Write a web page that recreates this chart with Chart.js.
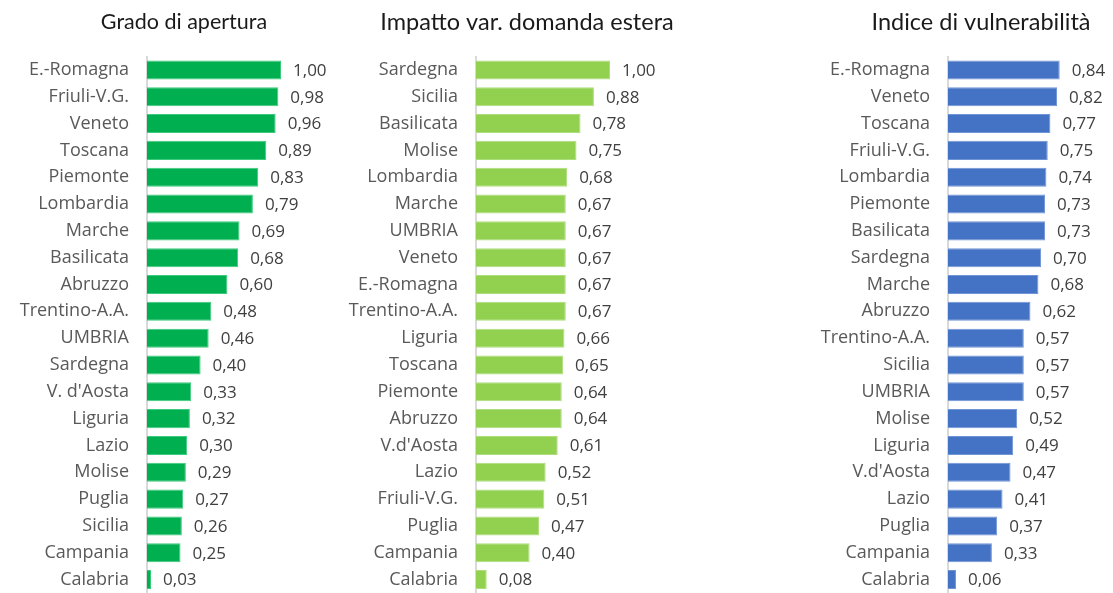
<!DOCTYPE html>
<html lang="it">
<head>
<meta charset="utf-8">
<title>Indicatori regionali</title>
<script src="https://cdn.jsdelivr.net/npm/chart.js@4/dist/chart.umd.min.js"></script>
<style>
    html, body { margin: 0; padding: 0; background: #fff; }
    #wrap { position: relative; width: 1113px; height: 593px; overflow: hidden; }
    #wrap canvas { position: absolute; top: 0; }
</style>
</head>
<body>
<div id="wrap">
    <canvas id="chart-apertura" width="368" height="593" style="left:0"></canvas>
    <canvas id="chart-domanda" width="374" height="593" style="left:340px"></canvas>
    <canvas id="chart-vulnerabilita" width="346" height="593" style="left:808px"></canvas>
</div>
<script>
// Grado di apertura
const regioniApertura = ['E.-Romagna', 'Friuli-V.G.', 'Veneto', 'Toscana', 'Piemonte', 'Lombardia', 'Marche',
    'Basilicata', 'Abruzzo', 'Trentino-A.A.', 'UMBRIA', 'Sardegna', "V. d'Aosta", 'Liguria', 'Lazio', 'Molise',
    'Puglia', 'Sicilia', 'Campania', 'Calabria'];
const valoriApertura = [1.00, 0.98, 0.96, 0.89, 0.83, 0.79, 0.69, 0.68, 0.60, 0.48, 0.46, 0.40, 0.33, 0.32,
    0.30, 0.29, 0.27, 0.26, 0.25, 0.03];

// Impatto var. domanda estera
const regioniDomanda = ['Sardegna', 'Sicilia', 'Basilicata', 'Molise', 'Lombardia', 'Marche', 'UMBRIA', 'Veneto',
    'E.-Romagna', 'Trentino-A.A.', 'Liguria', 'Toscana', 'Piemonte', 'Abruzzo', "V.d'Aosta", 'Lazio',
    'Friuli-V.G.', 'Puglia', 'Campania', 'Calabria'];
const valoriDomanda = [1.00, 0.88, 0.78, 0.75, 0.68, 0.67, 0.67, 0.67, 0.67, 0.67, 0.66, 0.65, 0.64, 0.64,
    0.61, 0.52, 0.51, 0.47, 0.40, 0.08];

// Indice di vulnerabilità
const regioniVulnerabilita = ['E.-Romagna', 'Veneto', 'Toscana', 'Friuli-V.G.', 'Lombardia', 'Piemonte',
    'Basilicata', 'Sardegna', 'Marche', 'Abruzzo', 'Trentino-A.A.', 'Sicilia', 'UMBRIA', 'Molise', 'Liguria',
    "V.d'Aosta", 'Lazio', 'Puglia', 'Campania', 'Calabria'];
const valoriVulnerabilita = [0.84, 0.82, 0.77, 0.75, 0.74, 0.73, 0.73, 0.70, 0.68, 0.62, 0.57, 0.57, 0.57,
    0.52, 0.49, 0.47, 0.41, 0.37, 0.33, 0.06];

const FONT = '"Open Sans", sans-serif';
const FONT_TITOLO = 'Lato, "Open Sans", sans-serif';

// scrive il valore a destra di ogni barra, con la virgola decimale
const etichetteValori = {
    id: 'etichetteValori',
    afterDatasetsDraw(chart) {
        const ctx = chart.ctx;
        const meta = chart.getDatasetMeta(0);
        const dati = chart.data.datasets[0].data;
        ctx.save();
        ctx.font = '17px ' + FONT;
        ctx.fillStyle = '#404040';
        ctx.textAlign = 'left';
        ctx.textBaseline = 'middle';
        meta.data.forEach((bar, i) => {
            ctx.fillText(dati[i].toFixed(2).replace('.', ','), bar.x + 12, bar.y + 1);
        });
        ctx.restore();
    }
};

function creaGrafico(id, cfg) {
    const altezzaTitolo = cfg.dimTitolo * 1.2;
    return new Chart(document.getElementById(id), {
        type: 'bar',
        data: {
            labels: cfg.regioni,
            datasets: [{
                data: cfg.valori,
                backgroundColor: cfg.colore,
                borderColor: cfg.bordo,
                borderWidth: 1,
                categoryPercentage: 0.71,
                barPercentage: 1
            }]
        },
        options: {
            indexAxis: 'y',
            responsive: false,
            animation: false,
            layout: { autoPadding: false, padding: 0 },
            plugins: {
                legend: { display: false },
                tooltip: { enabled: false },
                title: {
                    display: true,
                    text: cfg.titolo,
                    color: '#1a1a1a',
                    font: { family: FONT_TITOLO, size: cfg.dimTitolo, weight: 'normal' },
                    padding: { top: 22 - altezzaTitolo / 2, bottom: 34.5 - altezzaTitolo / 2 }
                }
            },
            scales: {
                // la scala dei valori si allunga fino al bordo del canvas
                x: { display: false, min: 0, max: cfg.massimo },
                y: {
                    afterFit: scale => {
                        scale.width = cfg.asse;
                        // niente margine extra sotto l'ultima categoria
                        scale.paddingTop = 0;
                        scale.paddingBottom = 0;
                    },
                    grid: { display: false, drawTicks: false },
                    border: { display: true, color: '#d9d9d9', width: 2 },
                    ticks: {
                        color: '#595959',
                        padding: 18,
                        autoSkip: false,
                        font: { family: FONT, size: 18 }
                    }
                }
            }
        },
        plugins: [etichetteValori]
    });
}

creaGrafico('chart-apertura', {
    titolo: 'Grado di apertura', dimTitolo: 21.5,
    regioni: regioniApertura, valori: valoriApertura,
    colore: '#00b050', bordo: '#3ccb7c',
    asse: 147, massimo: 1.649
});
creaGrafico('chart-domanda', {
    titolo: 'Impatto var. domanda estera', dimTitolo: 23.5,
    regioni: regioniDomanda, valori: valoriDomanda,
    colore: '#92d050', bordo: '#aede7c',
    asse: 136, massimo: 1.776
});
creaGrafico('chart-vulnerabilita', {
    titolo: 'Indice di vulnerabilità', dimTitolo: 23.5,
    regioni: regioniVulnerabilita, valori: valoriVulnerabilita,
    colore: '#4472c4', bordo: '#7095d6',
    asse: 140, massimo: 1.549
});
</script>
</body>
</html>
